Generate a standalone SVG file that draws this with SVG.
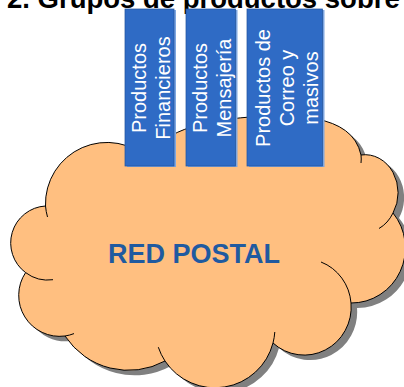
<svg xmlns="http://www.w3.org/2000/svg" width="404" height="387" viewBox="0 0 404 387">
<defs>
<style>
.title{font-family:"Liberation Sans",Arial,sans-serif;font-weight:bold;font-size:27.5px;fill:#000}
.cloud{fill:#FFBF80;stroke:#000;stroke-width:1}
.shadow{fill:#808080}
.tail{fill:none;stroke:#000;stroke-width:1}
.box{fill:#2F6BC5;stroke:#24559F;stroke-width:0.75}
.boxsh{fill:#7EA6E0}
.bt{font-family:"Liberation Sans",Arial,sans-serif;font-size:20px;fill:#fff;text-anchor:middle}
.main{font-family:"Liberation Sans",Arial,sans-serif;font-weight:bold;font-size:27px;fill:#1F5AA0;text-anchor:middle}
</style>
<path id="cloudPath" d="M45.5,206 A61.5,61.5 0 0 1 150,160 C158,132 200,121 250,117 C290,115 352,112 361,155 A33,38 0 0 1 393,213 A54,55 0 0 1 351,303 A47,48 0 0 1 273,343 A60,60 0 0 1 165,361 A76,76 0 0 1 65,336 A41,41 0 0 1 25.6,272.6 A37,37 0 0 1 45.5,206 Z"/>
</defs>
<text class="title" x="7" y="7.5">2. Grupos de productos sobre</text>
<g id="red-postal">
<use href="#cloudPath" class="shadow" transform="translate(6,5)"/>
<use href="#cloudPath" class="cloud"/>
<path class="tail" d="M45.5,206 A61.5,61.5 0 0 0 47.5,217"/>
<path class="tail" d="M25.6,272.6 A37,37 0 0 0 53,279.7"/>
<path class="tail" d="M65,336 A41,41 0 0 0 74,333.6"/>
<path class="tail" d="M165,361 A60,60 0 0 1 158.3,347.2"/>
<path class="tail" d="M273,343 A60,60 0 0 0 274.8,332"/>
<path class="tail" d="M321,262 A47,48 0 0 1 351,303"/>
<path class="tail" d="M393,213 A33,38 0 0 1 379,228.5"/>
<path class="tail" d="M361,155 Q361.5,159 361,163"/>
<text class="main" x="194" y="263">RED POSTAL</text>
</g>
<g id="productos-financieros">
<rect class="boxsh" x="127" y="10" width="49" height="157"/>
<rect class="box" x="125" y="9" width="49" height="157"/>
<text class="bt" transform="translate(146 88) rotate(-90)">Productos</text>
<text class="bt" transform="translate(170 88) rotate(-90)">Financieros</text>
</g>
<g id="productos-mensajeria">
<rect class="boxsh" x="188" y="10" width="49.5" height="157"/>
<rect class="box" x="186" y="9" width="49.5" height="157"/>
<text class="bt" transform="translate(207 88) rotate(-90)">Productos</text>
<text class="bt" transform="translate(231 88) rotate(-90)">Mensajería</text>
</g>
<g id="productos-correo">
<rect class="boxsh" x="249" y="10" width="75.5" height="157"/>
<rect class="box" x="247" y="9" width="75.5" height="157"/>
<text class="bt" transform="translate(270 88) rotate(-90)">Productos de</text>
<text class="bt" transform="translate(294 88) rotate(-90)">Correo y</text>
<text class="bt" transform="translate(318 88) rotate(-90)">masivos</text>
</g>
</svg>
